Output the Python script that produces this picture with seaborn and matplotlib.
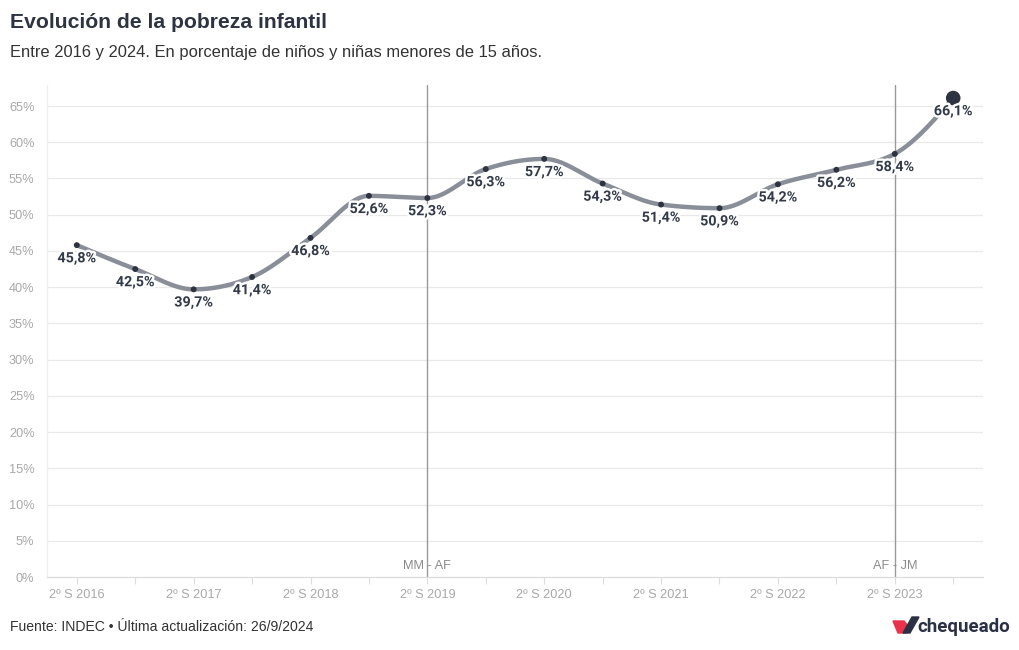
import numpy as np
import pandas as pd
import matplotlib
matplotlib.use("Agg")
import matplotlib.pyplot as plt
import matplotlib.patheffects as pe
from matplotlib.patches import Polygon
import seaborn as sns

# ---- data ----
periods = ["2º S 2016", "1º S 2017", "2º S 2017", "1º S 2018", "2º S 2018", "1º S 2019",
           "2º S 2019", "1º S 2020", "2º S 2020", "1º S 2021", "2º S 2021", "1º S 2022",
           "2º S 2022", "1º S 2023", "2º S 2023", "1º S 2024"]
values = [45.8, 42.5, 39.7, 41.4, 46.8, 52.6, 52.3, 56.3, 57.7, 54.3, 51.4, 50.9,
          54.2, 56.2, 58.4, 66.1]
value_labels = ["45,8%", "42,5%", "39,7%", "41,4%", "46,8%", "52,6%", "52,3%", "56,3%",
                "57,7%", "54,3%", "51,4%", "50,9%", "54,2%", "56,2%", "58,4%", "66,1%"]
period_marks = ["2º S 2019", "2º S 2023"]
period_mark_labels = ["MM - AF", "AF - JM"]
y_ticks = [0, 5, 10, 15, 20, 25, 30, 35, 40, 45, 50, 55, 60, 65]

title = "Evolución de la pobreza infantil"
subtitle = "Entre 2016 y 2024. En porcentaje de niños y niñas menores de 15 años."
footer = "Fuente: INDEC • Última actualización: 26/9/2024"

# ---- monotone-X cubic curve (like d3.curveMonotoneX) ----
def monotone_curve(x, y, n=40):
    x = np.asarray(x, float); y = np.asarray(y, float)
    m = len(x)
    h = np.diff(x); s = np.diff(y) / h
    t = np.zeros(m)
    for i in range(1, m - 1):
        s0, s1, h0, h1 = s[i - 1], s[i], h[i - 1], h[i]
        p = (s0 * h1 + s1 * h0) / (h0 + h1)
        t[i] = (np.sign(s0) + np.sign(s1)) * min(abs(s0), abs(s1), 0.5 * abs(p))
    t[0] = (3 * s[0] - t[1]) / 2
    t[-1] = (3 * s[-1] - t[-2]) / 2
    xs, ys = [], []
    for i in range(m - 1):
        u = np.linspace(0, 1, n, endpoint=(i == m - 2))
        h00 = 2 * u**3 - 3 * u**2 + 1
        h10 = u**3 - 2 * u**2 + u
        h01 = -2 * u**3 + 3 * u**2
        h11 = u**3 - u**2
        xs.append(x[i] + u * h[i])
        ys.append(h00 * y[i] + h10 * h[i] * t[i] + h01 * y[i + 1] + h11 * h[i] * t[i + 1])
    return np.concatenate(xs), np.concatenate(ys)

idx = np.arange(len(periods))
df = pd.DataFrame({"pos": idx, "periodo": periods, "valor": values})
cx, cy = monotone_curve(idx, values)
curve = pd.DataFrame({"pos": cx, "valor": cy})

# ---- style ----
sns.set_theme(style="white")
plt.rcParams["font.family"] = ["Liberation Sans", "DejaVu Sans"]

fig = plt.figure(figsize=(10.2, 6.5), dpi=100)
ax = fig.add_axes([47 / 1020, 1 - 577 / 650, (983 - 47) / 1020, (577 - 85) / 650])

dark = "#2d3340"
line_c = "#8a8e98"
grid_c = "#e9e9e9"
tick_c = "#a8a8a8"

for yv in y_ticks[1:]:
    ax.axhline(yv, color=grid_c, lw=0.9, zorder=0)

sns.lineplot(data=curve, x="pos", y="valor", ax=ax, color=line_c, lw=3.2,
             zorder=2, solid_capstyle="butt", sort=False)
sns.scatterplot(data=df.iloc[:-1], x="pos", y="valor", ax=ax, color=dark, s=18,
                edgecolor="none", zorder=4)
sns.scatterplot(data=df.iloc[-1:], x="pos", y="valor", ax=ax, color=dark, s=110,
                edgecolor="none", zorder=4)

for i, (v, lab) in enumerate(zip(values, value_labels)):
    ax.annotate(lab, (i, v), xytext=(0, -9.5), textcoords="offset points",
                ha="center", va="center", fontsize=10.3, fontweight="bold",
                color="#333a48", zorder=5, family=["Roboto", "DejaVu Sans"],
                path_effects=[pe.withStroke(linewidth=3.5, foreground="white")])

for pm, pl in zip(period_marks, period_mark_labels):
    xp = periods.index(pm)
    ax.axvline(xp, color="#9a9a9a", lw=1.0, zorder=1)
    ax.text(xp, 1.5, pl, ha="center", va="center", fontsize=9.2, color="#8a8a8a", zorder=3)

ax.set_xlim(-0.51, 15.51)
ax.set_ylim(0, 67.9)
ax.set_yticks(y_ticks)
ax.set_yticklabels([f"{t}%" for t in y_ticks])
ax.set_xticks(idx)
ax.set_xticklabels([p if i % 2 == 0 else "" for i, p in enumerate(periods)])
ax.set_xlabel(""); ax.set_ylabel("")
ax.tick_params(axis="y", length=0, pad=9, labelsize=9.2, labelcolor=tick_c)
ax.tick_params(axis="x", length=5, width=0.8, color="#dddddd", pad=4,
               labelsize=9.2, labelcolor=tick_c, direction="out", bottom=True)
for side in ["top", "right"]:
    ax.spines[side].set_visible(False)
ax.spines["left"].set_color("#eeeeee"); ax.spines["left"].set_linewidth(0.9)
ax.spines["bottom"].set_color("#dddddd"); ax.spines["bottom"].set_linewidth(0.9)
ax.set_facecolor("white")

fig.text(10 / 1020, 1 - 22 / 650, title, fontsize=15.2, fontweight="bold", color=dark,
         va="center", ha="left")
fig.text(10 / 1020, 1 - 53 / 650, subtitle, fontsize=11.85, color="#333333",
         va="center", ha="left")
fig.text(10 / 1020, 1 - 627 / 650, footer, fontsize=10.1, color="#333333",
         va="center", ha="left")

# logo
W, H = 1020, 650
def fpoly(pts, color):
    fig.patches.append(Polygon([(px / W, 1 - py / H) for px, py in pts], closed=True,
                               transform=fig.transFigure, color=color, zorder=10))
fpoly([(893, 621), (904, 621), (909, 627), (906, 633), (898, 633)], "#e8334a")
fpoly([(903, 633), (912, 617), (919, 617), (910, 633)], "#2b3145")
fig.text(1010 / 1020, 1 - 627 / 650, "chequeado", fontsize=13.5, fontweight="bold",
         color="#2b3145", ha="right", va="center", family=["Roboto", "DejaVu Sans"])

fig.savefig("out.png", dpi=100, facecolor="white")
